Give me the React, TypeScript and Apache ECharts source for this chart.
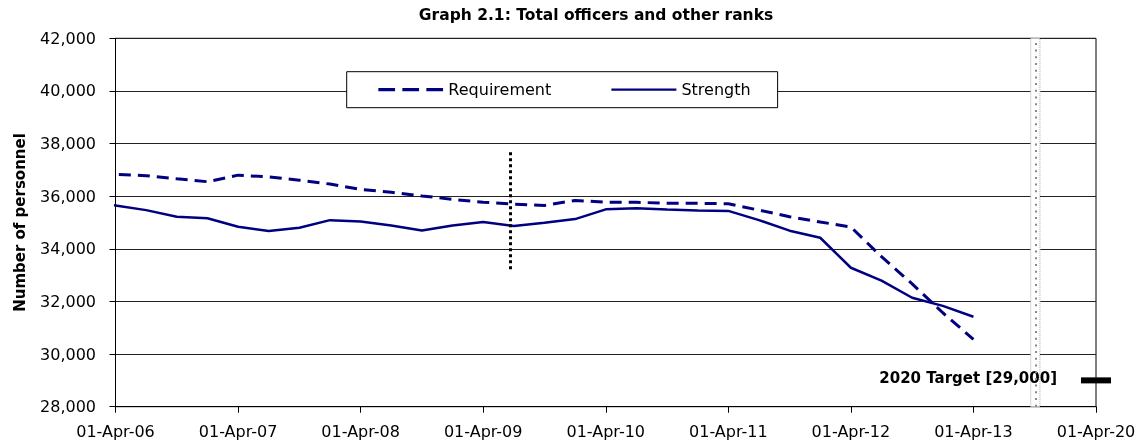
import { useEffect, useRef } from 'react';
import * as echarts from 'echarts';

// Tick labels of the x axis (one every 4 quarters, value axis in quarter units from 01-Apr-06)
const xLabels = [
  '01-Apr-06', '01-Apr-07', '01-Apr-08', '01-Apr-09', '01-Apr-10',
  '01-Apr-11', '01-Apr-12', '01-Apr-13', '01-Apr-20',
];

// Positions of observations, in quarters after 01-Apr-06
const quarterPositions = [
  -0.5, 0, 1, 2, 3, 4, 5, 6, 7, 8, 9, 10, 11, 12, 13, 14,
  15, 16, 17, 18, 19, 20, 21, 22, 23, 24, 25, 26, 27, 28,
];

const requirement = [
  36950, 36830, 36780, 36660, 36550, 36800, 36730, 36610, 36460, 36260,
  36150, 36010, 35880, 35770, 35700, 35650, 35840, 35770, 35770, 35730,
  35730, 35710, 35470, 35220, 35020, 34830, 33700, 32670, 31570, 30560,
];

const strength = [
  35730, 35650, 35470, 35220, 35160, 34840, 34680, 34800, 35090, 35040,
  34890, 34700, 34890, 35020, 34870, 34990, 35130, 35500, 35540, 35490,
  35460, 35440, 35090, 34690, 34420, 33280, 32790, 32140, 31830, 31420,
];

// Vertical dotted marker (quarter position, value range)
const markerQuarter = 12.87;
const markerRange = [33160, 37670];

// Axis break band (quarter positions)
const breakStart = 29.87;
const breakEnd = 30.17;
const breakMid = 30.03;

// 2020 target
const targetQuarter = 32;
const targetValue = 29000;
const targetLabel = '2020 Target [29,000]';

const yMin = 28000;
const yMax = 42000;
const yInterval = 2000;

const FONT = 'DejaVu Sans';
const NAVY = '#000080';

export default function App() {
  const ref = useRef<HTMLDivElement>(null);

  useEffect(() => {
    if (!ref.current) return;
    const chart = echarts.init(ref.current, null, { renderer: 'svg' });

    const reqData = quarterPositions.map((q, i) => [q, requirement[i]]);
    const strData = quarterPositions.map((q, i) => [q, strength[i]]);

    chart.setOption({
      animation: false,
      textStyle: { fontFamily: FONT, color: '#000' },
      grid: {
        left: 115.5,
        right: 49,
        top: 38.3,
        bottom: 41.3,
        show: true,
        borderColor: '#000',
        borderWidth: 1,
        backgroundColor: 'transparent',
      },
      graphic: [
        {
          type: 'text',
          x: 596,
          y: 15,
          z: 10,
          style: {
            text: 'Graph 2.1: Total officers and other ranks',
            font: `bold 15.5px "${FONT}"`,
            fill: '#000',
            textAlign: 'center',
            textVerticalAlign: 'middle',
          },
        },
      ],
      legend: {
        left: 346.7,
        top: 71.7,
        orient: 'horizontal',
        padding: [10, 27, 10, 30],
        itemGap: 59,
        itemWidth: 65,
        itemHeight: 16,
        backgroundColor: '#fff',
        borderColor: '#000',
        borderWidth: 1,
        borderRadius: 0,
        selectedMode: false,
        textStyle: { fontFamily: FONT, fontSize: 16, color: '#000' },
        data: [
          {
            name: 'Requirement',
            itemStyle: { opacity: 0 },
            lineStyle: { color: NAVY, width: 3.3, type: [16.7, 7.3], opacity: 1 },
          },
          {
            name: 'Strength',
            itemStyle: { opacity: 0 },
            lineStyle: { color: NAVY, width: 2.3, type: 'solid', opacity: 1 },
          },
        ],
      },
      xAxis: {
        type: 'value',
        min: 0,
        max: 32,
        interval: 4,
        axisLine: { show: true, onZero: false, lineStyle: { color: '#000', width: 1 } },
        axisTick: { show: true, length: 6, inside: false, lineStyle: { color: '#000' } },
        splitLine: { show: false },
        axisLabel: {
          fontFamily: FONT,
          fontSize: 16,
          color: '#000',
          margin: 17,
          formatter: (v: number) => xLabels[Math.round(v / 4)] ?? '',
        },
      },
      yAxis: {
        type: 'value',
        min: yMin,
        max: yMax,
        interval: yInterval,
        name: 'Number of personnel',
        nameLocation: 'middle',
        nameGap: 88,
        nameRotate: 90,
        nameTextStyle: { fontFamily: FONT, fontSize: 15, fontWeight: 'bold', color: '#000' },
        axisLine: { show: true, lineStyle: { color: '#000', width: 1 } },
        axisTick: { show: true, length: 6, inside: false, lineStyle: { color: '#000' } },
        splitLine: { show: true, lineStyle: { color: '#222', width: 1 } },
        axisLabel: {
          fontFamily: FONT,
          fontSize: 16,
          color: '#000',
          margin: 19.5,
          formatter: (v: number) => v.toLocaleString('en-US'),
        },
      },
      series: [
        {
          name: 'Requirement',
          type: 'line',
          data: reqData,
          clip: false,
          symbol: 'none',
          showSymbol: false,
          z: 3,
          lineStyle: { color: NAVY, width: 3, type: [12, 7] },
          itemStyle: { color: NAVY },
          markArea: {
            silent: true,
            itemStyle: {
              color: '#fff',
              borderColor: '#aaa',
              borderWidth: 1,
              borderType: 'dotted',
            },
            label: { show: false },
            data: [[{ xAxis: breakStart }, { xAxis: breakEnd }]],
          },
          markLine: {
            silent: true,
            symbol: ['none', 'none'],
            label: { show: false },
            data: [
              {
                xAxis: breakMid,
                lineStyle: { color: '#888', width: 2, type: [2, 4.7] },
              },
              [
                {
                  coord: [markerQuarter, markerRange[1]],
                  lineStyle: { color: '#000', width: 3, type: [3, 3] },
                },
                { coord: [markerQuarter, markerRange[0]] },
              ],
            ],
          },
        },
        {
          name: 'Strength',
          type: 'line',
          data: strData,
          clip: false,
          symbol: 'none',
          showSymbol: false,
          z: 3,
          lineStyle: { color: NAVY, width: 2.5, type: 'solid' },
          itemStyle: { color: NAVY },
        },
        {
          name: 'Target',
          type: 'scatter',
          data: [[targetQuarter, targetValue]],
          clip: false,
          symbol: 'rect',
          symbolSize: [30, 6],
          z: 4,
          itemStyle: { color: '#000', opacity: 1 },
          label: {
            show: true,
            position: 'left',
            distance: 24,
            offset: [0, -2],
            formatter: targetLabel,
            fontFamily: FONT,
            fontSize: 15,
            fontWeight: 'bold',
            color: '#000',
            textBorderWidth: 0,
          },
        },
      ],
    });

    return () => chart.dispose();
  }, []);

  return (
    <div
      ref={ref}
      style={{ position: 'fixed', left: 0, top: 0, width: 1145, height: 448 }}
    />
  );
}
